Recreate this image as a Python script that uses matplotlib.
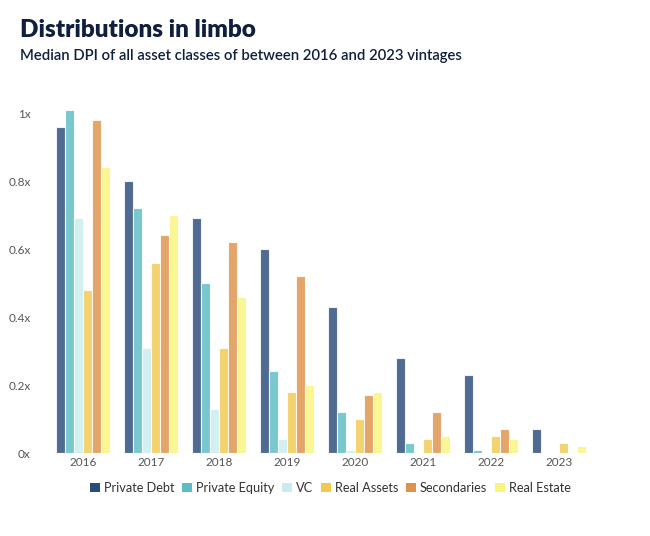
import numpy as np
import matplotlib
matplotlib.use('Agg')
import matplotlib.pyplot as plt
from matplotlib.patches import Patch

plt.rcParams['font.family'] = ['Lato', 'DejaVu Sans']

# vintages and series (median DPI, x)
years = ['2016', '2017', '2018', '2019', '2020', '2021', '2022', '2023']
series = ['Private Debt', 'Private Equity', 'VC', 'Real Assets', 'Secondaries', 'Real Estate']
private_debt = [0.96, 0.80, 0.69, 0.60, 0.43, 0.28, 0.23, 0.07]
private_equity = [1.01, 0.72, 0.50, 0.24, 0.12, 0.03, 0.01, 0.0]
vc = [0.69, 0.31, 0.13, 0.04, 0.01, 0.0, 0.0, 0.0]
real_assets = [0.48, 0.56, 0.31, 0.18, 0.10, 0.04, 0.05, 0.03]
secondaries = [0.98, 0.64, 0.62, 0.52, 0.17, 0.12, 0.07, 0.0]
real_estate = [0.84, 0.70, 0.46, 0.20, 0.18, 0.05, 0.04, 0.02]
yticks = [0, 0.2, 0.4, 0.6, 0.8, 1.0]
ytick_labels = ['0x', '0.2x', '0.4x', '0.6x', '0.8x', '1x']

values = [private_debt, private_equity, vc, real_assets, secondaries, real_estate]
colors = ['#2a4a7a', '#5bbcc4', '#c8ecee', '#f0ca4f', '#df924a', '#f9f57c']

fig = plt.figure(figsize=(6.5, 5.36), dpi=100)
ax = fig.add_axes([50 / 650, 83 / 536, 570 / 650, 357 / 536])

x = np.arange(len(years))
group_w = 0.8
bw = group_w / len(series)
for i, (vals, c) in enumerate(zip(values, colors)):
    pos = x - group_w / 2 + bw * (i + 0.5)
    ax.bar(pos, vals, width=bw, color=c, alpha=0.82, edgecolor='white', linewidth=0.8)

ax.set_xlim(-0.485, 7.9)
ax.set_ylim(0, 1.05)
ax.set_xticks(x)
ax.set_xticklabels(years)
ax.set_yticks(yticks)
ax.set_yticklabels(ytick_labels)
ax.tick_params(axis='both', length=0, labelsize=8.5, labelcolor='#555555')
ax.tick_params(axis='y', pad=14)
ax.tick_params(axis='x', pad=3)
for s in ax.spines.values():
    s.set_visible(False)

handles = [Patch(facecolor=c, edgecolor='none') for c in colors]
fig.legend(handles, series, loc='center', bbox_to_anchor=(0.508, 1 - 488 / 536), ncol=6,
           frameon=False, fontsize=9.2, handlelength=0.8, handleheight=0.8,
           handletextpad=0.3, columnspacing=0.6, labelcolor='#333333')

fig.text(20 / 650, 1 - 30 / 536, 'Distributions in limbo', fontsize=17.5, fontweight='heavy',
         color='#0f1f3d', va='center')
fig.text(20 / 650, 1 - 56 / 536, 'Median DPI of all asset classes of between 2016 and 2023 vintages',
         fontsize=10.7, fontweight='semibold', color='#0f1f3d', va='center')

fig.savefig('out.png', dpi=100)
